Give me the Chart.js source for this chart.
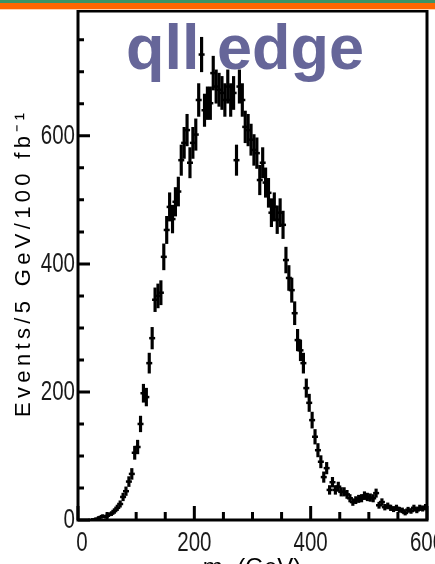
<!DOCTYPE html>
<html>
<head>
<meta charset="utf-8">
<script src="https://cdn.jsdelivr.net/npm/chart.js@4"></script>
<style>
  html, body { margin: 0; padding: 0; background: #fff; }
  #wrap { position: relative; width: 435px; height: 564px; overflow: hidden; }
  #bar1 { position: absolute; left: 0; top: 0; width: 435px; height: 3px; background: #3b9466; }
  #bar2 { position: absolute; left: 0; top: 3px; width: 435px; height: 6px; background: #ff6600; }
  #bar3 { position: absolute; left: 0; top: 9px; width: 435px; height: 1px; background: #ffd2b0; }
  canvas { position: absolute; left: 0; top: 0; }
</style>
</head>
<body>
<div id="wrap">
  <canvas id="c" width="435" height="564"></canvas>
  <div id="bar1"></div><div id="bar2"></div><div id="bar3"></div>
</div>
<script>
// ---- data ----
const titleText = "qll edge";
const yAxisTitle = "Events/5 GeV/100 fb\u207B\u00B9";
const xAxisTitle = "m\u2097\u2097 (GeV)";
const xTickValues = [0, 200, 400, 600];
const xTickLabels = ["0", "200", "400", "600"];
const yTickValues = [0, 200, 400, 600];
const yTickLabels = ["0", "200", "400", "600"];

const massBins = [
  22.5, 27.5, 32.5, 37.5, 42.5, 47.5, 52.5, 57.5, 62.5, 67.5,
  72.5, 77.5, 82.5, 87.5, 92.5, 97.5, 102.5, 107.5, 112.5, 117.5,
  122.5, 127.5, 132.5, 137.5, 142.5, 147.5, 152.5, 157.5, 162.5, 167.5,
  172.5, 177.5, 182.5, 187.5, 192.5, 197.5, 202.5, 207.5, 212.5, 217.5,
  222.5, 227.5, 232.5, 237.5, 242.5, 247.5, 252.5, 257.5, 262.5, 267.5,
  272.5, 277.5, 282.5, 287.5, 292.5, 297.5, 302.5, 307.5, 312.5, 317.5,
  322.5, 327.5, 332.5, 337.5, 342.5, 347.5, 352.5, 357.5, 362.5, 367.5,
  372.5, 377.5, 382.5, 387.5, 392.5, 397.5, 402.5, 407.5, 412.5, 417.5,
  422.5, 427.5, 432.5, 437.5, 442.5, 447.5, 452.5, 457.5, 462.5, 467.5,
  472.5, 477.5, 482.5, 487.5, 492.5, 497.5, 502.5, 507.5, 512.5, 517.5,
  522.5, 527.5, 532.5, 537.5, 542.5, 547.5, 552.5, 557.5, 562.5, 567.5,
  572.5, 577.5, 582.5, 587.5, 592.5, 597.5
];
const events = [
  0, 1, 2, 4, 6, 5, 8, 10, 14, 19,
  25, 36, 45, 60, 72, 105, 114, 150, 198, 192,
  245, 284, 344, 350, 355, 411, 453, 489, 470, 497,
  513, 562, 589, 609, 558, 589, 602, 656, 727, 640,
  651, 651, 698, 677, 672, 667, 656, 677, 656, 667,
  562, 677, 656, 614, 609, 594, 578, 573, 531, 558,
  527, 511, 480, 489, 469, 480, 461, 406, 378, 359,
  323, 281, 265, 245, 206, 183, 156, 130, 109, 91,
  67, 81, 47, 59, 47, 52, 44, 44, 40, 34,
  28, 31, 33, 34, 38, 36, 35, 34, 42, 23,
  28, 20, 22, 19, 17, 19, 16, 15, 11, 16,
  14, 19, 15, 19, 18, 20
];

// condensed tick label drawing (horizontal squeeze)
function drawCondensed(ctx, text, x, y, align, baseline) {
  ctx.save();
  ctx.font = "27px 'Liberation Sans', Arial, sans-serif";
  ctx.fillStyle = '#1a1a1a';
  ctx.textAlign = align;
  ctx.textBaseline = baseline;
  ctx.translate(x, y);
  ctx.scale(0.76, 1);
  ctx.fillText(text, 0, 0);
  ctx.restore();
}

const decorPlugin = {
  id: 'decor',
  beforeDatasetsDraw(chart) {
    const ctx = chart.ctx;
    ctx.save();
    ctx.fillStyle = '#666699';
    ctx.font = "bold 63px 'Liberation Sans', Arial, sans-serif";
    ctx.textAlign = 'center';
    ctx.textBaseline = 'alphabetic';
    ctx.fillText(titleText, 245, 69);
    ctx.restore();
  },
  afterDraw(chart) {
    const ctx = chart.ctx;
    const a = chart.chartArea;
    const xs = chart.scales.x, ys = chart.scales.y;
    ctx.save();
    ctx.strokeStyle = '#000';
    ctx.lineWidth = 3;
    ctx.strokeRect(a.left, a.top, a.right - a.left, a.bottom - a.top);
    // inward ticks
    ctx.beginPath();
    for (let v = 0; v <= ys.max; v += 50) {
      const y = ys.getPixelForValue(v);
      const len = (v % 200 === 0) ? 12 : 6;
      ctx.moveTo(a.left, y); ctx.lineTo(a.left + len, y);
    }
    for (let m = 0; m <= xs.max; m += 50) {
      const x = xs.getPixelForValue(m);
      const len = (m % 200 === 0) ? 14 : 8;
      ctx.moveTo(x, a.bottom); ctx.lineTo(x, a.bottom - len);
    }
    ctx.stroke();
    ctx.restore();
    // tick labels
    yTickValues.forEach((v, i) => drawCondensed(ctx, yTickLabels[i], a.left - 3, ys.getPixelForValue(v) + 1, 'right', 'middle'));
    xTickValues.forEach((v, i) => drawCondensed(ctx, xTickLabels[i], xs.getPixelForValue(v) + (v === 0 ? 4 : 0), a.bottom + 10, 'center', 'top'));
    // y axis title, spaced letters, rotated
    ctx.save();
    ctx.fillStyle = '#000';
    ctx.font = "22px 'Liberation Sans', Arial, sans-serif";
    ctx.textBaseline = 'middle';
    ctx.textAlign = 'left';
    const chars = Array.from(yAxisTitle);
    const widths = chars.map(ch => ctx.measureText(ch).width);
    const natural = widths.reduce((p, q) => p + q, 0);
    const target = 304;
    const gap = (target - natural) / (chars.length - 1);
    ctx.translate(24, 265);
    ctx.rotate(-Math.PI / 2);
    let pos = -target / 2;
    chars.forEach((ch, i) => { ctx.fillText(ch, pos, 0); pos += widths[i] + gap; });
    ctx.restore();
    // x axis title (mostly below the visible edge)
    ctx.save();
    ctx.fillStyle = '#000';
    ctx.font = "24px 'Liberation Sans', Arial, sans-serif";
    ctx.textAlign = 'center';
    ctx.textBaseline = 'top';
    ctx.fillText(xAxisTitle, 252, 556);
    ctx.restore();
  }
};

new Chart(document.getElementById('c'), {
  type: 'bar',
  data: {
    datasets: [
      {
        type: 'bar',
        data: massBins.map((m, i) => ({ x: m, y: [events[i] - Math.sqrt(events[i]), events[i] + Math.sqrt(events[i])] })),
        backgroundColor: '#000',
        borderWidth: 0,
        barThickness: 2.5,
        grouped: false
      },
      {
        type: 'scatter',
        data: massBins.map((m, i) => ({ x: m, y: events[i] })),
        pointStyle: 'line',
        pointRadius: 3,
        borderColor: '#000',
        borderWidth: 2.5,
        showLine: false
      }
    ]
  },
  options: {
    responsive: false,
    animation: false,
    devicePixelRatio: 1,
    layout: { padding: { left: 78, top: 11, right: 8, bottom: 44 } },
    plugins: { legend: { display: false }, tooltip: { enabled: false }, title: { display: false } },
    scales: {
      x: {
        type: 'linear', min: 0, max: 600, offset: false,
        afterFit(s) { s.height = 0; s.paddingLeft = 0; s.paddingRight = 0; },
        grid: { display: false, drawTicks: false, offset: false },
        border: { display: false },
        ticks: { display: false, stepSize: 200 }
      },
      y: {
        type: 'linear', min: 0, max: 795,
        afterFit(s) { s.width = 0; s.paddingTop = 0; s.paddingBottom = 0; },
        grid: { display: false, drawTicks: false },
        border: { display: false },
        ticks: { display: false, stepSize: 200 }
      }
    }
  },
  plugins: [decorPlugin]
});
</script>
</body>
</html>
